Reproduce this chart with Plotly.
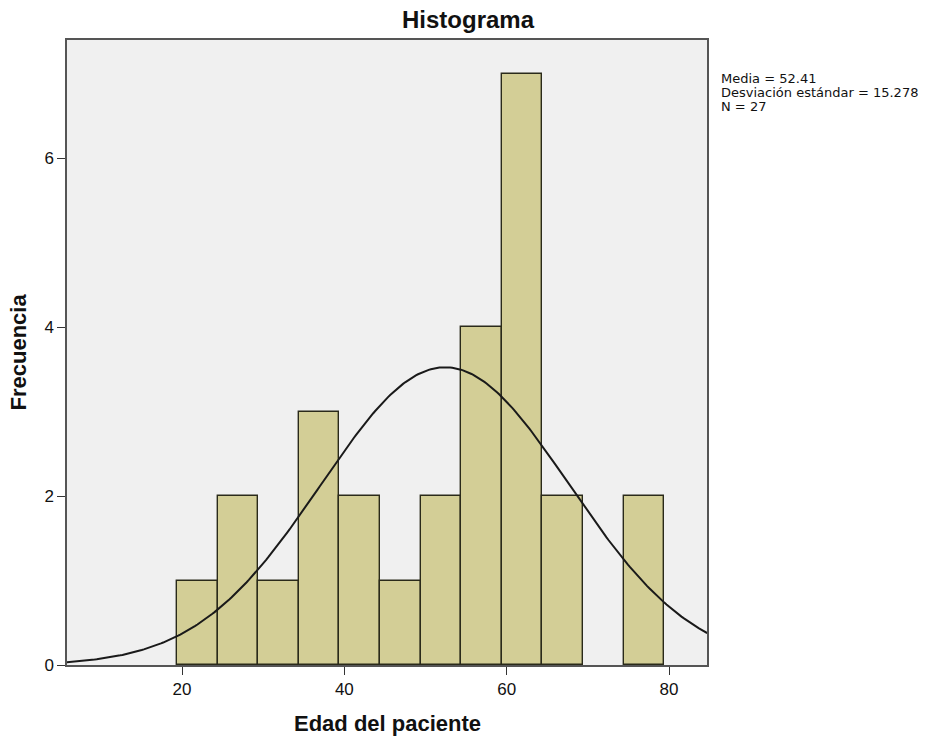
import numpy as np
import plotly.graph_objects as go

bin_start = 19.4
bin_width = 5.0
counts = [1, 2, 1, 3, 2, 1, 2, 4, 7, 2, 0, 2]
media = 52.41
desv = 15.278
n = 27

centers = [bin_start + bin_width * (i + 0.5) for i in range(len(counts))]
bx = [c for c, k in zip(centers, counts) if k > 0]
by = [k for k in counts if k > 0]

xs = np.linspace(5.8, 84.7, 300)
ys = n * bin_width / (desv * np.sqrt(2 * np.pi)) * np.exp(-0.5 * ((xs - media) / desv) ** 2)

FONT = "Liberation Sans, Arial"

fig = go.Figure()
fig.add_trace(go.Bar(x=bx, y=by, width=bin_width,
                     marker=dict(color="#D3CE96", line=dict(color="#2a2a1a", width=1.4)),
                     showlegend=False, hoverinfo="x+y"))
fig.add_trace(go.Scatter(x=xs, y=ys, mode="lines", line=dict(color="#1a1a1a", width=2),
                         showlegend=False, hoverinfo="skip"))

fig.update_layout(
    width=939, height=742,
    margin=dict(l=67, r=232, t=40, b=77),
    paper_bgcolor="white", plot_bgcolor="#F0F0F0",
    title=dict(text="<b>Histograma</b>", x=468 / 939, xref="container", xanchor="center",
               y=1 - 20 / 742, yref="container", yanchor="middle",
               font=dict(family=FONT, size=24, color="#111")),
    font=dict(family=FONT, color="#111"),
    bargap=0,
    xaxis=dict(range=[5.83, 84.68], tickvals=[20, 40, 60, 80], showgrid=False, zeroline=False,
               ticks="outside", ticklen=8, tickcolor="#333", showline=True, linecolor="#555",
               linewidth=1.5, mirror=True, tickfont=dict(size=17)),
    yaxis=dict(range=[0, 7.40], tickvals=[0, 2, 4, 6], showgrid=False, zeroline=False,
               ticks="outside", ticklen=8, tickcolor="#333", showline=True, linecolor="#555",
               linewidth=1.5, mirror=True, tickfont=dict(size=17)),
)

# axis titles
fig.add_annotation(x=0.5, xref="paper", y=0, yref="paper", yshift=-58,
                   xanchor="center", yanchor="middle", showarrow=False,
                   text="<b>Edad del paciente</b>", font=dict(size=22, family=FONT, color="#111"))
fig.add_annotation(x=0, xref="paper", xshift=-49, y=0.5, yref="paper",
                   xanchor="center", yanchor="middle", showarrow=False, textangle=-90,
                   text="<b>Frecuencia</b>", font=dict(size=22, family=FONT, color="#111"))

# statistics box
stats_lines = [f"Media = {media}", f"Desviación estándar = {desv}", f"N = {n}"]
for i, line in enumerate(stats_lines):
    fig.add_annotation(x=1, xref="paper", xshift=12, y=1, yref="paper", yshift=-(38 + 14 * i),
                       xanchor="left", yanchor="middle", align="left", showarrow=False,
                       text=line, font=dict(size=13, family="DejaVu Sans", color="#111"))

fig.write_html("out.html", config={"displayModeBar": False},
               post_script="document.body.style.margin='0';")
